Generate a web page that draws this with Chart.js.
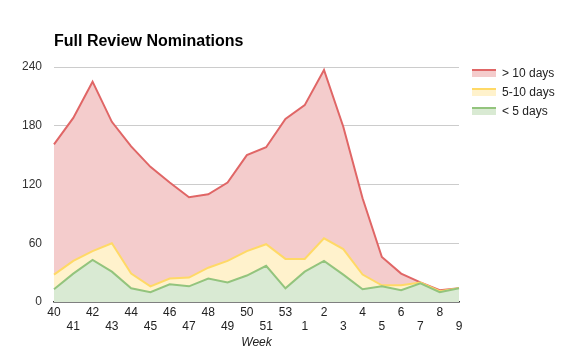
<!DOCTYPE html>
<html>
<head>
<meta charset="utf-8">
<script src="https://cdn.jsdelivr.net/npm/chart.js@4.4.0/dist/chart.umd.min.js"></script>
<style>
  body{margin:0;background:#fff;font-family:"Liberation Sans",Arial,sans-serif;}
  #wrap{position:relative;width:568px;height:351px;}
  #title{position:absolute;left:54px;top:32px;font-size:16px;font-weight:bold;color:#000;}
  #legend{position:absolute;left:472px;top:63px;font-size:12px;color:#222;}
  .row{display:flex;align-items:center;height:19px;}
  .sw{width:24px;height:8px;margin-right:6px;box-sizing:border-box;border-top:2px solid;}
</style>
</head>
<body>
<div id="wrap">
  <canvas id="c" width="568" height="351"></canvas>
  <div id="title">Full Review Nominations</div>
  <div id="legend"></div>
</div>
<script>
// Week labels (week 52 is missing in the source)
const weeks = ['40','41','42','43','44','45','46','47','48','49','50','51','53','1','2','3','4','5','6','7','8','9'];
// series values (stacked: green bottom, yellow middle, red top)
const under5 = [13,29,43,31,14,10,18,16,24,20,27,37,14,31,42,28,13,16,12,19,10,14];
const from5to10 = [15,13,9,29,15,6,6,9,11,22,25,22,30,13,23,26,15,1,5,1,1,0];
const over10 = [133,146,173,124,130,122,98,82,75,80,98,99,143,157,172,125,78,29,12,0,1,0];
const yTicks = [0,60,120,180,240];

const series = [
  {label:'< 5 days', data:under5, line:'#93c47d', fill:'#d9ead3'},
  {label:'5-10 days', data:from5to10, line:'#ffd966', fill:'#fff2cc'},
  {label:'> 10 days', data:over10, line:'#e06666', fill:'#f4cccc'}
];

const ctx = document.getElementById('c').getContext('2d');
new Chart(ctx, {
  type:'line',
  data:{
    labels:weeks,
    datasets:series.map((s,i)=>({
      label:s.label,
      data:s.data,
      borderColor:s.line,
      backgroundColor:s.fill,
      borderWidth:2,
      pointRadius:0,
      tension:0,
      fill: i===0 ? 'origin' : '-1'
    }))
  },
  options:{
    responsive:false,
    animation:false,
    layout:{padding:{top:67,right:109,left:0,bottom:0}},
    plugins:{legend:{display:false},tooltip:{enabled:false},title:{display:false}},
    scales:{
      x:{
        offset:false,
        grid:{display:false,drawTicks:false},
        border:{color:'#333',width:1.5},
        afterFit:(a)=>{a.height=49;},
        ticks:{
          autoSkip:false,maxRotation:0,padding:4,color:'#222',
          font:{family:'"Liberation Sans", Arial',size:12,lineHeight:1.17},
          callback:(v,i)=> i%2 ? ['',weeks[i]] : [weeks[i],'']
        },
        title:{display:true,text:'Week',color:'#222',padding:{top:0,bottom:1},
          font:{family:'"Liberation Sans", Arial',size:12,style:'italic'}}
      },
      y:{
        stacked:true,min:0,max:240,
        afterFit:(a)=>{a.width=54;},
        afterBuildTicks:(a)=>{a.ticks=yTicks.map(v=>({value:v}));},
        grid:{color:'#cccccc',drawTicks:false},
        border:{display:false},
        ticks:{padding:12,color:'#333',font:{family:'"Liberation Sans", Arial',size:12}}
      }
    }
  }
});

// legend, top series first
const legend = document.getElementById('legend');
series.slice().reverse().forEach(s=>{
  const el = document.createElement('div');
  el.className='row';
  el.innerHTML = `<div class="sw" style="border-top-color:${s.line};background:${s.fill}"></div><div>${s.label}</div>`;
  legend.appendChild(el);
});
</script>
</body>
</html>
